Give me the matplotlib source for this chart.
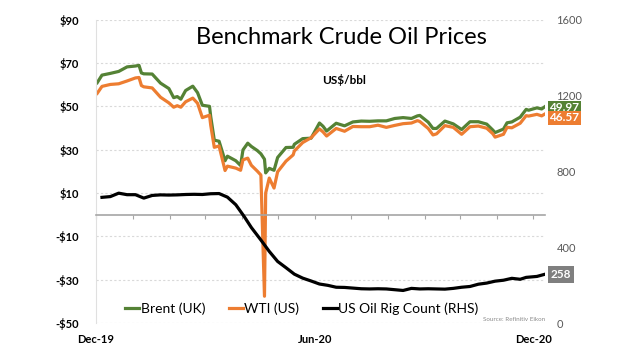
import numpy as np
import pandas as pd
import matplotlib
matplotlib.use("Agg")
import matplotlib.pyplot as plt
import matplotlib.dates as mdates
import matplotlib.transforms as mtrans

plt.rcParams['font.family'] = ['Lato', 'DejaVu Sans']

# price dates (Brent / WTI), US$/bbl
price_dates = ['2019-12-02', '2019-12-06', '2019-12-13', '2019-12-20', '2019-12-27',
               '2020-01-03', '2020-01-06', '2020-01-08', '2020-01-10', '2020-01-17',
               '2020-01-24', '2020-01-31', '2020-02-04', '2020-02-07', '2020-02-10',
               '2020-02-14', '2020-02-20', '2020-02-24', '2020-02-28', '2020-03-05',
               '2020-03-06', '2020-03-09', '2020-03-13', '2020-03-18', '2020-03-20',
               '2020-03-27', '2020-03-31', '2020-04-02', '2020-04-06', '2020-04-09',
               '2020-04-14', '2020-04-17', '2020-04-20', '2020-04-21', '2020-04-24',
               '2020-04-28', '2020-05-01', '2020-05-08', '2020-05-14', '2020-05-15',
               '2020-05-22', '2020-05-29', '2020-06-05', '2020-06-08', '2020-06-11',
               '2020-06-19', '2020-06-26', '2020-07-03', '2020-07-10', '2020-07-17',
               '2020-07-24', '2020-07-31', '2020-08-07', '2020-08-14', '2020-08-21',
               '2020-08-26', '2020-08-28', '2020-09-04', '2020-09-08', '2020-09-11',
               '2020-09-18', '2020-09-25', '2020-10-02', '2020-10-09', '2020-10-16',
               '2020-10-23', '2020-10-28', '2020-10-30', '2020-11-06', '2020-11-09',
               '2020-11-13', '2020-11-20', '2020-11-25', '2020-11-27', '2020-12-04',
               '2020-12-08', '2020-12-11']
brent = [60.9, 64.4, 65.2, 66.1, 68.2,
         68.6, 68.9, 65.4, 65.0, 64.9,
         60.7, 58.2, 54.0, 54.5, 53.3,
         57.3, 59.3, 56.3, 50.5, 50.0,
         45.3, 34.4, 33.9, 24.9, 27.0,
         24.9, 22.7, 29.9, 33.0, 31.5,
         29.6, 28.1, 25.6, 19.3, 21.4,
         20.5, 26.4, 31.0, 31.1, 32.5,
         35.1, 35.3, 42.3, 40.8, 38.6,
         42.2, 41.0, 42.8, 43.2, 43.1,
         43.3, 43.3, 44.4, 44.8, 44.4,
         45.6, 45.8, 42.7, 39.8, 39.8,
         43.2, 41.9, 39.3, 42.9, 42.9,
         41.8, 39.1, 37.9, 39.5, 42.4,
         42.8, 45.0, 48.6, 48.2, 49.3,
         48.8, 49.97]
wti = [56.0, 59.2, 60.1, 60.4, 61.7,
       63.1, 63.3, 59.6, 59.0, 58.5,
       54.2, 51.6, 49.6, 50.3, 49.6,
       52.1, 53.8, 51.4, 44.8, 45.9,
       41.3, 31.1, 31.7, 20.4, 22.4,
       21.5, 20.5, 25.3, 26.1, 22.8,
       20.1, 18.3, -37.6, 10.0, 16.9,
       12.3, 19.8, 24.7, 27.6, 29.4,
       33.3, 35.5, 39.6, 38.2, 36.3,
       39.8, 38.5, 40.7, 40.6, 40.6,
       41.3, 40.3, 41.2, 42.0, 42.3,
       43.4, 43.0, 39.8, 36.8, 37.3,
       41.1, 40.3, 37.1, 40.6, 40.9,
       39.9, 37.4, 35.8, 37.1, 40.3,
       40.1, 42.2, 45.7, 45.5, 46.3,
       45.6, 46.57]

# US oil rig count (weekly)
rig_dates = ['2019-12-06', '2019-12-13', '2019-12-20', '2019-12-27', '2020-01-03',
             '2020-01-10', '2020-01-17', '2020-01-24', '2020-01-31', '2020-02-07',
             '2020-02-14', '2020-02-21', '2020-02-28', '2020-03-06', '2020-03-13',
             '2020-03-20', '2020-03-27', '2020-04-03', '2020-04-09', '2020-04-17',
             '2020-04-24', '2020-05-01', '2020-05-08', '2020-05-15', '2020-05-22',
             '2020-05-29', '2020-06-05', '2020-06-12', '2020-06-19', '2020-06-26',
             '2020-07-02', '2020-07-10', '2020-07-17', '2020-07-24', '2020-07-31',
             '2020-08-07', '2020-08-14', '2020-08-21', '2020-08-28', '2020-09-04',
             '2020-09-11', '2020-09-18', '2020-09-25', '2020-10-02', '2020-10-09',
             '2020-10-16', '2020-10-23', '2020-10-30', '2020-11-06', '2020-11-13',
             '2020-11-20', '2020-11-25', '2020-12-04', '2020-12-11']
rigs = [663, 667, 685, 677, 677,
        659, 673, 676, 675, 676,
        678, 679, 678, 682, 683,
        664, 624, 562, 504, 438,
        378, 325, 292, 258, 237,
        222, 206, 199, 189, 188,
        185, 181, 180, 181, 180,
        176, 172, 183, 180, 181,
        180, 179, 183, 189, 193,
        205, 211, 221, 226, 236,
        231, 241, 246, 258]

left_ticks = [-50, -30, -10, 10, 30, 50, 70, 90]
right_ticks = [0, 400, 800, 1200, 1600]
x_labels = ['Dec-19', 'Jun-20', 'Dec-20']
x_label_dates = ['2019-12-01', '2020-06-01', '2020-12-01']

green = '#548235'
orange = '#ed7d31'

pdates = pd.to_datetime(price_dates)
rdates = pd.to_datetime(rig_dates)

fig = plt.figure(figsize=(6.4, 3.57), dpi=100)
ax = fig.add_axes([0.15, 0.095, 0.702, 0.85])
ax2 = ax.twinx()

l1, = ax.plot(pdates, brent, color=green, lw=2.3, label='Brent (UK)')
l2, = ax.plot(pdates, wti, color=orange, lw=2.3, label='WTI (US)')
l3, = ax2.plot(rdates, rigs, color='black', lw=2.3, label='US Oil Rig Count (RHS)')

ax.set_ylim(-50, 90)
ax.set_yticks(left_ticks)
ax.set_yticklabels(['-$%d' % -v if v < 0 else '$%d' % v for v in left_ticks],
                   fontweight='bold', fontsize=8)
ax.tick_params(axis='y', length=0, pad=12)
ax.yaxis.grid(True, linestyle=(0, (2, 2)), color='#d9d9d9', lw=0.8)
ax.set_axisbelow(True)

ax.set_xlim(pd.Timestamp('2019-12-01'), pd.Timestamp('2020-12-11'))
ax.spines['bottom'].set_position(('data', 0))
ax.spines['bottom'].set_color('#a6a6a6')
ax.spines['bottom'].set_linewidth(1.2)
ax.spines['left'].set_color('#e0e0e0')
ax.spines['top'].set_visible(False)
ax.spines['right'].set_visible(False)
ax.xaxis.set_major_locator(mdates.MonthLocator())
ax.tick_params(axis='x', direction='out', length=3, color='#a6a6a6', labelbottom=False)

sec = ax.secondary_xaxis('bottom')
sec.set_xticks(pd.to_datetime(x_label_dates))
sec.set_xticklabels(x_labels, fontweight='bold', fontsize=8)
sec.tick_params(length=0, pad=8)
sec.spines['bottom'].set_visible(False)

ax2.set_ylim(0, 1600)
ax2.set_yticks(right_ticks)
ax2.set_yticklabels([str(v) for v in right_ticks], color='#595959', fontsize=8)
ax2.tick_params(axis='y', length=0, pad=8)
for s in ax2.spines.values():
    s.set_visible(False)

# end-of-series value boxes
tr = mtrans.blended_transform_factory(ax.transAxes, ax.transData)
tr2 = mtrans.blended_transform_factory(ax2.transAxes, ax2.transData)
ax.annotate('%.2f' % brent[-1], xy=(1.0, brent[-1]), xycoords=tr, xytext=(3, -1),
            textcoords='offset points', va='center', ha='left', color='white',
            fontweight='bold', fontsize=8.5, annotation_clip=False,
            bbox=dict(boxstyle='square,pad=0.12', fc=green, ec='none'))
ax.annotate('%.2f' % wti[-1], xy=(1.0, wti[-1]), xycoords=tr, xytext=(3, -3),
            textcoords='offset points', va='center', ha='left', color='white',
            fontweight='bold', fontsize=8.5, annotation_clip=False,
            bbox=dict(boxstyle='square,pad=0.12', fc=orange, ec='none'))
ax2.annotate('%d' % rigs[-1], xy=(1.0, rigs[-1]), xycoords=tr2, xytext=(4, 0),
             textcoords='offset points', va='center', ha='left', color='white',
             fontweight='bold', fontsize=8.5, annotation_clip=False,
             bbox=dict(boxstyle='square,pad=0.25', fc='#7f7f7f', ec='none'))

fig.text(0.533, 0.895, 'Benchmark Crude Oil Prices', ha='center', va='center',
         fontsize=17, color='black')
fig.text(0.503, 0.776, 'US$/bbl', ha='left', va='center', fontsize=8.5,
         fontweight='bold')
ax2.text(1.0, 0.005, 'Source: Refinitiv Eikon', transform=ax2.transAxes,
         ha='right', va='bottom', fontsize=4.5, color='#8c8c8c')

ax2.legend(handles=[l1, l2, l3], loc='lower center', bbox_to_anchor=(0.458, -0.015),
           ncol=3, frameon=False, fontsize=10, handlelength=1.0,
           handletextpad=0.1, columnspacing=1.7)

fig.savefig('out.png', dpi=100)
